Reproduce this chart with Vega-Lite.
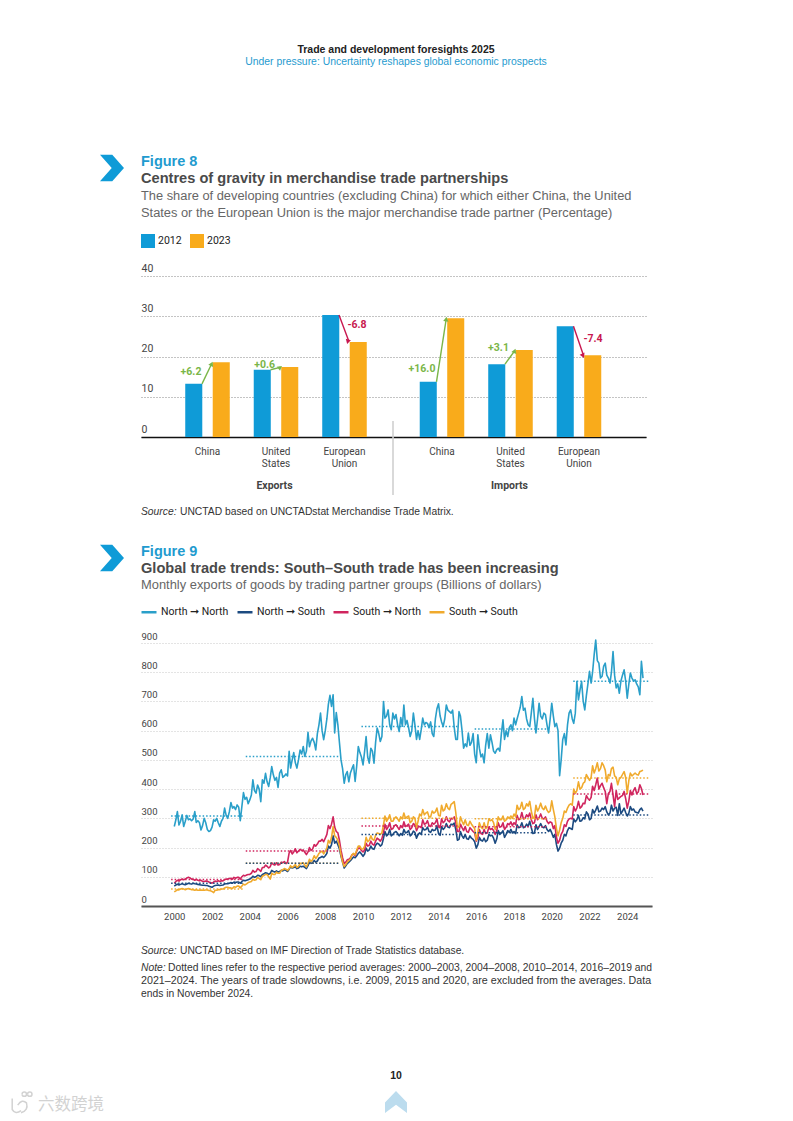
{"$schema":"https://vega.github.io/schema/vega-lite/v6.json","padding":0,"spacing":0,"bounds":"flush","align":"each","columns":3,"resolve":{"scale":{"color":"independent","angle":"independent","xOffset":"independent"},"legend":{"color":"independent"}},"config":{"view":{"stroke":null},"font":"Liberation Sans","concat":{"spacing":0}},
"datasets":{
"blank":[{"spacer":"empty cell"}],
"arrowsE":[{"partner":"China","end":"from","value":13.2,"dir":"up"},{"partner":"China","end":"to","value":18.2,"dir":"up"},{"partner":"United States","end":"from","value":16.7,"dir":"up"},{"partner":"United States","end":"to","value":17.3,"dir":"up"},{"partner":"European Union","end":"from","value":30.3,"dir":"down"},{"partner":"European Union","end":"to","value":23.9,"dir":"down"}],
"arrowsI":[{"partner":"China","end":"from","value":13.7,"dir":"up"},{"partner":"China","end":"to","value":29.3,"dir":"up"},{"partner":"United States","end":"from","value":18.1,"dir":"up"},{"partner":"United States","end":"to","value":21.4,"dir":"up"},{"partner":"European Union","end":"from","value":27.5,"dir":"down"},{"partner":"European Union","end":"to","value":20.5,"dir":"down"}],
"barsE":[{"partner":"China","year":"2012","value":13.2},{"partner":"China","year":"2023","value":18.6},{"partner":"United States","year":"2012","value":16.7},{"partner":"United States","year":"2023","value":17.4},{"partner":"European Union","year":"2012","value":30.3},{"partner":"European Union","year":"2023","value":23.6}],
"barsI":[{"partner":"China","year":"2012","value":13.7},{"partner":"China","year":"2023","value":29.5},{"partner":"United States","year":"2012","value":18.1},{"partner":"United States","year":"2023","value":21.6},{"partner":"European Union","year":"2012","value":27.5},{"partner":"European Union","year":"2023","value":20.3}],
"monthly":[
{"d":"2000-01","NN":272,"NS":68,"SN":78,"SS":48},{"d":"2000-02","NN":295,"NS":72,"SN":84,"SS":52},{"d":"2000-03","NN":323,"NS":75,"SN":88,"SS":56},{"d":"2000-04","NN":277,"NS":72,"SN":85,"SS":55},{"d":"2000-05","NN":290,"NS":74,"SN":90,"SS":58},{"d":"2000-06","NN":312,"NS":76,"SN":92,"SS":60},{"d":"2000-07","NN":272,"NS":74,"SN":90,"SS":58},{"d":"2000-08","NN":290,"NS":73,"SN":92,"SS":56},{"d":"2000-09","NN":310,"NS":75,"SN":96,"SS":58},{"d":"2000-10","NN":295,"NS":78,"SN":98,"SS":60},{"d":"2000-11","NN":298,"NS":76,"SN":96,"SS":58},{"d":"2000-12","NN":292,"NS":75,"SN":92,"SS":56},
{"d":"2001-01","NN":298,"NS":78,"SN":92,"SS":56},{"d":"2001-02","NN":323,"NS":76,"SN":88,"SS":54},{"d":"2001-03","NN":286,"NS":75,"SN":92,"SS":56},{"d":"2001-04","NN":292,"NS":74,"SN":88,"SS":54},{"d":"2001-05","NN":286,"NS":73,"SN":86,"SS":54},{"d":"2001-06","NN":260,"NS":72,"SN":88,"SS":55},{"d":"2001-07","NN":275,"NS":71,"SN":84,"SS":54},{"d":"2001-08","NN":300,"NS":71,"SN":84,"SS":54},{"d":"2001-09","NN":285,"NS":70,"SN":85,"SS":55},{"d":"2001-10","NN":262,"NS":70,"SN":85,"SS":55},{"d":"2001-11","NN":255,"NS":68,"SN":82,"SS":53},{"d":"2001-12","NN":258,"NS":66,"SN":80,"SS":52},
{"d":"2002-01","NN":270,"NS":64,"SN":78,"SS":50},{"d":"2002-02","NN":295,"NS":68,"SN":82,"SS":46},{"d":"2002-03","NN":290,"NS":70,"SN":85,"SS":54},{"d":"2002-04","NN":300,"NS":71,"SN":84,"SS":54},{"d":"2002-05","NN":285,"NS":72,"SN":86,"SS":56},{"d":"2002-06","NN":272,"NS":70,"SN":84,"SS":56},{"d":"2002-07","NN":290,"NS":71,"SN":86,"SS":58},{"d":"2002-08","NN":300,"NS":72,"SN":86,"SS":58},{"d":"2002-09","NN":335,"NS":75,"SN":90,"SS":62},{"d":"2002-10","NN":310,"NS":76,"SN":92,"SS":64},{"d":"2002-11","NN":300,"NS":76,"SN":92,"SS":64},{"d":"2002-12","NN":322,"NS":78,"SN":94,"SS":62},
{"d":"2003-01","NN":354,"NS":80,"SN":95,"SS":62},{"d":"2003-02","NN":335,"NS":78,"SN":92,"SS":60},{"d":"2003-03","NN":340,"NS":82,"SN":98,"SS":66},{"d":"2003-04","NN":330,"NS":80,"SN":95,"SS":64},{"d":"2003-05","NN":346,"NS":82,"SN":98,"SS":68},{"d":"2003-06","NN":338,"NS":82,"SN":98,"SS":68},{"d":"2003-07","NN":292,"NS":78,"SN":92,"SS":62},{"d":"2003-08","NN":340,"NS":84,"SN":100,"SS":68},{"d":"2003-09","NN":388,"NS":88,"SN":105,"SS":75},{"d":"2003-10","NN":365,"NS":86,"SN":103,"SS":72},{"d":"2003-11","NN":372,"NS":88,"SN":106,"SS":76},{"d":"2003-12","NN":350,"NS":90,"SN":108,"SS":80},
{"d":"2004-01","NN":363,"NS":92,"SN":108,"SS":82},{"d":"2004-02","NN":380,"NS":96,"SN":112,"SS":84},{"d":"2004-03","NN":432,"NS":102,"SN":122,"SS":92},{"d":"2004-04","NN":395,"NS":98,"SN":116,"SS":88},{"d":"2004-05","NN":386,"NS":100,"SN":118,"SS":90},{"d":"2004-06","NN":414,"NS":105,"SN":128,"SS":98},{"d":"2004-07","NN":400,"NS":104,"SN":124,"SS":94},{"d":"2004-08","NN":357,"NS":100,"SN":118,"SS":90},{"d":"2004-09","NN":432,"NS":108,"SN":132,"SS":102},{"d":"2004-10","NN":420,"NS":110,"SN":132,"SS":104},{"d":"2004-11","NN":454,"NS":114,"SN":140,"SS":108},{"d":"2004-12","NN":425,"NS":112,"SN":136,"SS":108},
{"d":"2005-01","NN":409,"NS":108,"SN":130,"SS":100},{"d":"2005-02","NN":440,"NS":112,"SN":135,"SS":92},{"d":"2005-03","NN":477,"NS":122,"SN":148,"SS":112},{"d":"2005-04","NN":449,"NS":118,"SN":142,"SS":108},{"d":"2005-05","NN":430,"NS":116,"SN":140,"SS":108},{"d":"2005-06","NN":440,"NS":120,"SN":148,"SS":116},{"d":"2005-07","NN":406,"NS":116,"SN":140,"SS":112},{"d":"2005-08","NN":455,"NS":118,"SN":142,"SS":112},{"d":"2005-09","NN":466,"NS":122,"SN":150,"SS":122},{"d":"2005-10","NN":440,"NS":120,"SN":148,"SS":124},{"d":"2005-11","NN":445,"NS":124,"SN":152,"SS":128},{"d":"2005-12","NN":452,"NS":122,"SN":145,"SS":126},
{"d":"2006-01","NN":445,"NS":118,"SN":150,"SS":122},{"d":"2006-02","NN":529,"NS":126,"SN":182,"SS":128},{"d":"2006-03","NN":472,"NS":134,"SN":190,"SS":138},{"d":"2006-04","NN":500,"NS":130,"SN":178,"SS":132},{"d":"2006-05","NN":525,"NS":132,"SN":185,"SS":136},{"d":"2006-06","NN":490,"NS":134,"SN":196,"SS":142},{"d":"2006-07","NN":472,"NS":128,"SN":182,"SS":132},{"d":"2006-08","NN":500,"NS":130,"SN":188,"SS":136},{"d":"2006-09","NN":534,"NS":136,"SN":194,"SS":146},{"d":"2006-10","NN":520,"NS":134,"SN":190,"SS":145},{"d":"2006-11","NN":546,"NS":136,"SN":192,"SS":148},{"d":"2006-12","NN":512,"NS":132,"SN":184,"SS":140},
{"d":"2007-01","NN":530,"NS":128,"SN":176,"SS":134},{"d":"2007-02","NN":594,"NS":138,"SN":185,"SS":146},{"d":"2007-03","NN":545,"NS":150,"SN":200,"SS":160},{"d":"2007-04","NN":565,"NS":146,"SN":190,"SS":152},{"d":"2007-05","NN":574,"NS":148,"SN":195,"SS":158},{"d":"2007-06","NN":560,"NS":156,"SN":210,"SS":172},{"d":"2007-07","NN":534,"NS":150,"SN":205,"SS":162},{"d":"2007-08","NN":590,"NS":154,"SN":212,"SS":170},{"d":"2007-09","NN":620,"NS":164,"SN":222,"SS":180},{"d":"2007-10","NN":660,"NS":166,"SN":222,"SS":184},{"d":"2007-11","NN":600,"NS":170,"SN":228,"SS":188},{"d":"2007-12","NN":569,"NS":166,"SN":220,"SS":178},
{"d":"2008-01","NN":600,"NS":172,"SN":232,"SS":188},{"d":"2008-02","NN":640,"NS":180,"SN":245,"SS":198},{"d":"2008-03","NN":690,"NS":205,"SN":275,"SS":225},{"d":"2008-04","NN":721,"NS":198,"SN":265,"SS":215},{"d":"2008-05","NN":683,"NS":210,"SN":280,"SS":235},{"d":"2008-06","NN":723,"NS":240,"SN":305,"SS":272},{"d":"2008-07","NN":592,"NS":215,"SN":270,"SS":240},{"d":"2008-08","NN":662,"NS":222,"SN":255,"SS":235},{"d":"2008-09","NN":620,"NS":210,"SN":250,"SS":225},{"d":"2008-10","NN":560,"NS":195,"SN":225,"SS":205},{"d":"2008-11","NN":500,"NS":170,"SN":190,"SS":175},{"d":"2008-12","NN":470,"NS":150,"SN":165,"SS":150},
{"d":"2009-01","NN":420,"NS":130,"SN":145,"SS":135},{"d":"2009-02","NN":450,"NS":138,"SN":150,"SS":142},{"d":"2009-03","NN":460,"NS":145,"SN":158,"SS":150},{"d":"2009-04","NN":425,"NS":150,"SN":160,"SS":155},{"d":"2009-05","NN":455,"NS":155,"SN":165,"SS":160},{"d":"2009-06","NN":470,"NS":162,"SN":175,"SS":175},{"d":"2009-07","NN":483,"NS":168,"SN":178,"SS":180},{"d":"2009-08","NN":426,"NS":165,"SN":172,"SS":175},{"d":"2009-09","NN":480,"NS":172,"SN":188,"SS":192},{"d":"2009-10","NN":546,"NS":180,"SN":198,"SS":205},{"d":"2009-11","NN":525,"NS":185,"SN":198,"SS":205},{"d":"2009-12","NN":510,"NS":178,"SN":190,"SS":195},
{"d":"2010-01","NN":483,"NS":170,"SN":185,"SS":195},{"d":"2010-02","NN":530,"NS":178,"SN":192,"SS":205},{"d":"2010-03","NN":580,"NS":198,"SN":215,"SS":235},{"d":"2010-04","NN":510,"NS":188,"SN":205,"SS":220},{"d":"2010-05","NN":489,"NS":192,"SN":208,"SS":225},{"d":"2010-06","NN":540,"NS":205,"SN":222,"SS":240},{"d":"2010-07","NN":530,"NS":196,"SN":212,"SS":228},{"d":"2010-08","NN":489,"NS":194,"SN":208,"SS":225},{"d":"2010-09","NN":560,"NS":208,"SN":222,"SS":242},{"d":"2010-10","NN":609,"NS":215,"SN":232,"SS":250},{"d":"2010-11","NN":590,"NS":212,"SN":228,"SS":248},{"d":"2010-12","NN":563,"NS":205,"SN":222,"SS":245},
{"d":"2011-01","NN":580,"NS":210,"SN":230,"SS":250},{"d":"2011-02","NN":700,"NS":232,"SN":252,"SS":278},{"d":"2011-03","NN":643,"NS":255,"SN":280,"SS":308},{"d":"2011-04","NN":650,"NS":240,"SN":262,"SS":290},{"d":"2011-05","NN":671,"NS":245,"SN":270,"SS":298},{"d":"2011-06","NN":620,"NS":262,"SN":285,"SS":312},{"d":"2011-07","NN":603,"NS":240,"SN":262,"SS":290},{"d":"2011-08","NN":660,"NS":245,"SN":265,"SS":290},{"d":"2011-09","NN":640,"NS":252,"SN":275,"SS":300},{"d":"2011-10","NN":655,"NS":255,"SN":278,"SS":305},{"d":"2011-11","NN":620,"NS":248,"SN":270,"SS":298},{"d":"2011-12","NN":597,"NS":240,"SN":262,"SS":290},
{"d":"2012-01","NN":645,"NS":248,"SN":275,"SS":305},{"d":"2012-02","NN":615,"NS":242,"SN":268,"SS":298},{"d":"2012-03","NN":688,"NS":262,"SN":288,"SS":318},{"d":"2012-04","NN":620,"NS":250,"SN":272,"SS":300},{"d":"2012-05","NN":635,"NS":252,"SN":275,"SS":305},{"d":"2012-06","NN":610,"NS":258,"SN":280,"SS":308},{"d":"2012-07","NN":580,"NS":240,"SN":262,"SS":285},{"d":"2012-08","NN":600,"NS":245,"SN":268,"SS":290},{"d":"2012-09","NN":660,"NS":256,"SN":282,"SS":305},{"d":"2012-10","NN":620,"NS":252,"SN":278,"SS":300},{"d":"2012-11","NN":570,"NS":232,"SN":258,"SS":268},{"d":"2012-12","NN":600,"NS":245,"SN":270,"SS":290},
{"d":"2013-01","NN":570,"NS":250,"SN":272,"SS":315},{"d":"2013-02","NN":605,"NS":245,"SN":268,"SS":308},{"d":"2013-03","NN":643,"NS":268,"SN":295,"SS":330},{"d":"2013-04","NN":620,"NS":260,"SN":280,"SS":312},{"d":"2013-05","NN":628,"NS":262,"SN":282,"SS":318},{"d":"2013-06","NN":625,"NS":270,"SN":292,"SS":322},{"d":"2013-07","NN":610,"NS":255,"SN":275,"SS":305},{"d":"2013-08","NN":630,"NS":252,"SN":272,"SS":305},{"d":"2013-09","NN":590,"NS":262,"SN":285,"SS":325},{"d":"2013-10","NN":580,"NS":258,"SN":280,"SS":318},{"d":"2013-11","NN":640,"NS":260,"SN":285,"SS":322},{"d":"2013-12","NN":675,"NS":275,"SN":298,"SS":335},
{"d":"2014-01","NN":692,"NS":248,"SN":270,"SS":310},{"d":"2014-02","NN":650,"NS":242,"SN":268,"SS":308},{"d":"2014-03","NN":630,"NS":272,"SN":298,"SS":345},{"d":"2014-04","NN":614,"NS":262,"SN":285,"SS":325},{"d":"2014-05","NN":640,"NS":268,"SN":290,"SS":330},{"d":"2014-06","NN":688,"NS":282,"SN":305,"SS":350},{"d":"2014-07","NN":670,"NS":270,"SN":292,"SS":335},{"d":"2014-08","NN":665,"NS":268,"SN":288,"SS":330},{"d":"2014-09","NN":660,"NS":280,"SN":300,"SS":348},{"d":"2014-10","NN":670,"NS":278,"SN":298,"SS":352},{"d":"2014-11","NN":610,"NS":284,"SN":305,"SS":357},{"d":"2014-12","NN":570,"NS":262,"SN":285,"SS":320},
{"d":"2015-01","NN":570,"NS":225,"SN":255,"SS":268},{"d":"2015-02","NN":665,"NS":228,"SN":255,"SS":272},{"d":"2015-03","NN":650,"NS":255,"SN":280,"SS":305},{"d":"2015-04","NN":600,"NS":240,"SN":268,"SS":290},{"d":"2015-05","NN":540,"NS":232,"SN":258,"SS":278},{"d":"2015-06","NN":555,"NS":245,"SN":272,"SS":295},{"d":"2015-07","NN":545,"NS":230,"SN":255,"SS":278},{"d":"2015-08","NN":592,"NS":228,"SN":252,"SS":275},{"d":"2015-09","NN":550,"NS":240,"SN":268,"SS":290},{"d":"2015-10","NN":560,"NS":232,"SN":262,"SS":280},{"d":"2015-11","NN":590,"NS":228,"SN":255,"SS":272},{"d":"2015-12","NN":520,"NS":220,"SN":250,"SS":265},
{"d":"2016-01","NN":490,"NS":198,"SN":222,"SS":225},{"d":"2016-02","NN":586,"NS":210,"SN":235,"SS":252},{"d":"2016-03","NN":540,"NS":235,"SN":262,"SS":285},{"d":"2016-04","NN":510,"NS":225,"SN":248,"SS":270},{"d":"2016-05","NN":520,"NS":222,"SN":245,"SS":265},{"d":"2016-06","NN":490,"NS":232,"SN":262,"SS":285},{"d":"2016-07","NN":550,"NS":220,"SN":248,"SS":265},{"d":"2016-08","NN":590,"NS":225,"SN":250,"SS":270},{"d":"2016-09","NN":540,"NS":245,"SN":270,"SS":298},{"d":"2016-10","NN":586,"NS":240,"SN":262,"SS":292},{"d":"2016-11","NN":560,"NS":242,"SN":265,"SS":295},{"d":"2016-12","NN":530,"NS":232,"SN":258,"SS":285},
{"d":"2017-01","NN":523,"NS":215,"SN":245,"SS":262},{"d":"2017-02","NN":535,"NS":230,"SN":258,"SS":275},{"d":"2017-03","NN":540,"NS":258,"SN":285,"SS":305},{"d":"2017-04","NN":530,"NS":245,"SN":270,"SS":295},{"d":"2017-05","NN":590,"NS":250,"SN":272,"SS":295},{"d":"2017-06","NN":637,"NS":258,"SN":285,"SS":308},{"d":"2017-07","NN":570,"NS":235,"SN":262,"SS":290},{"d":"2017-08","NN":600,"NS":245,"SN":270,"SS":295},{"d":"2017-09","NN":580,"NS":258,"SN":282,"SS":305},{"d":"2017-10","NN":610,"NS":252,"SN":278,"SS":300},{"d":"2017-11","NN":620,"NS":262,"SN":288,"SS":308},{"d":"2017-12","NN":600,"NS":250,"SN":275,"SS":300},
{"d":"2018-01","NN":643,"NS":255,"SN":285,"SS":315},{"d":"2018-02","NN":620,"NS":248,"SN":278,"SS":305},{"d":"2018-03","NN":640,"NS":278,"SN":310,"SS":345},{"d":"2018-04","NN":660,"NS":268,"SN":295,"SS":330},{"d":"2018-05","NN":680,"NS":270,"SN":298,"SS":335},{"d":"2018-06","NN":717,"NS":285,"SN":320,"SS":355},{"d":"2018-07","NN":670,"NS":268,"SN":298,"SS":330},{"d":"2018-08","NN":677,"NS":270,"SN":300,"SS":335},{"d":"2018-09","NN":640,"NS":280,"SN":312,"SS":350},{"d":"2018-10","NN":620,"NS":272,"SN":305,"SS":342},{"d":"2018-11","NN":614,"NS":290,"SN":318,"SS":358},{"d":"2018-12","NN":660,"NS":268,"SN":295,"SS":325},
{"d":"2019-01","NN":711,"NS":248,"SN":282,"SS":300},{"d":"2019-02","NN":640,"NS":250,"SN":285,"SS":305},{"d":"2019-03","NN":592,"NS":278,"SN":312,"SS":345},{"d":"2019-04","NN":640,"NS":262,"SN":295,"SS":325},{"d":"2019-05","NN":694,"NS":272,"SN":302,"SS":335},{"d":"2019-06","NN":650,"NS":282,"SN":315,"SS":352},{"d":"2019-07","NN":640,"NS":270,"SN":300,"SS":335},{"d":"2019-08","NN":660,"NS":268,"SN":298,"SS":330},{"d":"2019-09","NN":655,"NS":275,"SN":305,"SS":342},{"d":"2019-10","NN":620,"NS":262,"SN":290,"SS":328},{"d":"2019-11","NN":592,"NS":255,"SN":282,"SS":320},{"d":"2019-12","NN":640,"NS":262,"SN":288,"SS":325},
{"d":"2020-01","NN":694,"NS":250,"SN":285,"SS":360},{"d":"2020-02","NN":650,"NS":235,"SN":265,"SS":330},{"d":"2020-03","NN":614,"NS":245,"SN":275,"SS":305},{"d":"2020-04","NN":625,"NS":210,"SN":235,"SS":265},{"d":"2020-05","NN":600,"NS":188,"SN":215,"SS":240},{"d":"2020-06","NN":446,"NS":198,"SN":225,"SS":260},{"d":"2020-07","NN":500,"NS":215,"SN":245,"SS":285},{"d":"2020-08","NN":570,"NS":225,"SN":255,"SS":300},{"d":"2020-09","NN":590,"NS":245,"SN":278,"SS":325},{"d":"2020-10","NN":551,"NS":240,"SN":272,"SS":320},{"d":"2020-11","NN":620,"NS":258,"SN":290,"SS":335},{"d":"2020-12","NN":660,"NS":268,"SN":298,"SS":345},
{"d":"2021-01","NN":671,"NS":265,"SN":300,"SS":350},{"d":"2021-02","NN":640,"NS":262,"SN":298,"SS":345},{"d":"2021-03","NN":625,"NS":298,"SN":340,"SS":400},{"d":"2021-04","NN":660,"NS":288,"SN":325,"SS":385},{"d":"2021-05","NN":768,"NS":295,"SN":335,"SS":395},{"d":"2021-06","NN":705,"NS":310,"SN":358,"SS":425},{"d":"2021-07","NN":740,"NS":290,"SN":335,"SS":400},{"d":"2021-08","NN":768,"NS":292,"SN":340,"SS":405},{"d":"2021-09","NN":700,"NS":302,"SN":352,"SS":420},{"d":"2021-10","NN":671,"NS":298,"SN":350,"SS":425},{"d":"2021-11","NN":720,"NS":322,"SN":378,"SS":450},{"d":"2021-12","NN":760,"NS":315,"SN":368,"SS":440},
{"d":"2022-01","NN":803,"NS":295,"SN":362,"SS":430},{"d":"2022-02","NN":763,"NS":300,"SN":372,"SS":440},{"d":"2022-03","NN":800,"NS":330,"SN":410,"SS":480},{"d":"2022-04","NN":860,"NS":318,"SN":395,"SS":455},{"d":"2022-05","NN":910,"NS":328,"SN":415,"SS":470},{"d":"2022-06","NN":840,"NS":342,"SN":438,"SS":490},{"d":"2022-07","NN":831,"NS":322,"SN":400,"SS":462},{"d":"2022-08","NN":780,"NS":325,"SN":412,"SS":470},{"d":"2022-09","NN":786,"NS":335,"SN":420,"SS":490},{"d":"2022-10","NN":820,"NS":330,"SN":405,"SS":480},{"d":"2022-11","NN":831,"NS":340,"SN":392,"SS":465},{"d":"2022-12","NN":790,"NS":322,"SN":350,"SS":425},
{"d":"2023-01","NN":780,"NS":312,"SN":385,"SS":450},{"d":"2023-02","NN":763,"NS":318,"SN":392,"SS":445},{"d":"2023-03","NN":800,"NS":345,"SN":420,"SS":470},{"d":"2023-04","NN":871,"NS":325,"SN":380,"SS":475},{"d":"2023-05","NN":790,"NS":335,"SN":340,"SS":445},{"d":"2023-06","NN":746,"NS":338,"SN":395,"SS":440},{"d":"2023-07","NN":760,"NS":310,"SN":365,"SS":415},{"d":"2023-08","NN":728,"NS":350,"SN":370,"SS":435},{"d":"2023-09","NN":770,"NS":315,"SN":375,"SS":440},{"d":"2023-10","NN":790,"NS":325,"SN":378,"SS":450},{"d":"2023-11","NN":808,"NS":335,"SN":392,"SS":460},{"d":"2023-12","NN":770,"NS":320,"SN":368,"SS":440},
{"d":"2024-01","NN":711,"NS":308,"SN":335,"SS":385},{"d":"2024-02","NN":760,"NS":318,"SN":360,"SS":430},{"d":"2024-03","NN":797,"NS":340,"SN":395,"SS":455},{"d":"2024-04","NN":780,"NS":328,"SN":380,"SS":445},{"d":"2024-05","NN":770,"NS":332,"SN":395,"SS":450},{"d":"2024-06","NN":774,"NS":322,"SN":405,"SS":455},{"d":"2024-07","NN":760,"NS":320,"SN":385,"SS":450},{"d":"2024-08","NN":750,"NS":318,"SN":390,"SS":448},{"d":"2024-09","NN":723,"NS":330,"SN":415,"SS":460},{"d":"2024-10","NN":837,"NS":335,"SN":402,"SS":462},{"d":"2024-11","NN":780,"NS":325,"SN":380,"SS":465}
],
"averages":[
{"series":"NN","start":"1999-11-01","end":"2003-08-25","level":308},{"series":"NS","start":"1999-11-01","end":"2003-08-25","level":78},{"series":"SN","start":"1999-11-01","end":"2003-08-25","level":91},{"series":"SS","start":"1999-11-01","end":"2003-08-25","level":58},
{"series":"NN","start":"2003-10-15","end":"2008-10-10","level":512},{"series":"SS","start":"2003-10-15","end":"2008-10-10","level":146},{"series":"NS","start":"2003-10-15","end":"2008-10-10","level":146},{"series":"SN","start":"2003-10-15","end":"2008-10-10","level":188},
{"series":"NN","start":"2009-12-01","end":"2015-01-10","level":614},{"series":"NS","start":"2009-12-01","end":"2015-01-10","level":245},{"series":"SN","start":"2009-12-01","end":"2015-01-10","level":274},{"series":"SS","start":"2009-12-01","end":"2015-01-10","level":300},
{"series":"NN","start":"2015-12-01","end":"2019-10-20","level":606},{"series":"NS","start":"2015-12-01","end":"2019-10-20","level":251},{"series":"SN","start":"2015-12-01","end":"2019-10-20","level":271},{"series":"SS","start":"2015-12-01","end":"2019-10-20","level":299},
{"series":"NN","start":"2021-02-20","end":"2025-02-15","level":769},{"series":"NS","start":"2021-02-20","end":"2025-02-15","level":311},{"series":"SN","start":"2021-02-20","end":"2025-02-15","level":383},{"series":"SS","start":"2021-02-20","end":"2025-02-15","level":438}
]
},
"concat":[
{"width":141,"height":146,"data":{"name":"blank"},"mark":{"type":"text","text":" "}},
{"width":252,"height":146,"data":{"name":"blank"},"mark":{"type":"text","text":" "}},
{"width":253,"height":146,"layer":[
{"data":{"values":[{"line":"1","t":"Trade and development foresights 2025"}]},"mark":{"type":"text","x":3,"fontSize":10.5,"fontWeight":"bold","color":"#222222"},"encoding":{"y":{"field":"line","type":"nominal","axis":null,"scale":{"type":"point","domain":["1","2"],"range":[50,62],"padding":0}},"text":{"field":"t"}}},
{"data":{"values":[{"line":"2","t":"Under pressure: Uncertainty reshapes global economic prospects"}]},"mark":{"type":"text","x":3,"fontSize":10.4,"color":"#1f9bcf"},"encoding":{"y":{"field":"line","type":"nominal","axis":null,"scale":{"type":"point","domain":["1","2"],"range":[50,62],"padding":0}},"text":{"field":"t"}}}
]},
{"width":141,"height":130,"data":{"values":[{"figure":"Figure 8"}]},"mark":{"type":"point","shape":"M-0.9,-1L0.02,-1L0.9,0L0.02,1L-0.9,1L-0.02,0Z","filled":true,"fill":"#0f9bd7","stroke":null,"opacity":1,"size":711,"x":112,"y":22}},
{"width":252,"height":130,"layer":[
{"data":{"values":[{"line":"1","t":"Figure 8"}]},"mark":{"type":"text","align":"left","x":0,"fontSize":14.5,"fontWeight":"bold","color":"#1f9bcf"},"encoding":{"y":{"field":"line","type":"nominal","axis":null,"scale":{"type":"point","domain":["1","2","3","4"],"range":[15.5,66.5],"padding":0}},"text":{"field":"t"}}},
{"data":{"values":[{"line":"2","t":"Centres of gravity in merchandise trade partnerships"}]},"mark":{"type":"text","align":"left","x":0,"fontSize":14.6,"fontWeight":"bold","color":"#4a4a4a"},"encoding":{"y":{"field":"line","type":"nominal","axis":null,"scale":{"type":"point","domain":["1","2","3","4"],"range":[15.5,66.5],"padding":0}},"text":{"field":"t"}}},
{"data":{"values":[{"line":"3","t":"The share of developing countries (excluding China) for which either China, the United"},{"line":"4","t":"States or the European Union is the major merchandise trade partner (Percentage)"}]},"mark":{"type":"text","align":"left","x":0,"fontSize":12.85,"color":"#666666"},"encoding":{"y":{"field":"line","type":"nominal","axis":null,"scale":{"type":"point","domain":["1","2","3","4"],"range":[15.5,66.5],"padding":0}},"text":{"field":"t"}}}
]},
{"width":253,"height":130,"data":{"name":"blank"},"mark":{"type":"text","text":" "}},
{"width":141,"height":161,"data":{"name":"blank"},"mark":{"type":"text","text":" "}},
{"width":252,"height":161,"encoding":{"x":{"field":"partner","type":"nominal","title":"Exports","scale":{"domain":["China","United States","European Union"],"paddingInner":0.35,"paddingOuter":0.5145,"align":0.6277},"axis":{"labelAngle":0,"ticks":false,"domainColor":"#111111","domainWidth":1.5,"labelFont":"Roboto","labelFontSize":10,"labelColor":"#444444","labelPadding":9,"labelExpr":"split(datum.label,' ')","titleFont":"Roboto","titleFontSize":10.5,"titleFontWeight":"bold","titleColor":"#444444","titleX":133,"titleY":48,"titleBaseline":"middle"}}},
"layer":[
{"data":{"name":"barsE"},"mark":{"type":"bar"},"encoding":{"xOffset":{"field":"year","type":"nominal","scale":{"domain":["2012","2023"],"paddingInner":0.38,"paddingOuter":0}},"y":{"field":"value","type":"quantitative","stack":null,"scale":{"domain":[0,40]},"axis":{"title":null,"values":[0,10,20,30,40],"grid":true,"gridDash":[1,2],"gridColor":"#888888","domain":false,"ticks":false,"tickSize":0,"labelAlign":"left","labelBaseline":"bottom","labelPadding":0,"labelOffset":-3,"labelOverlap":false,"labelFont":"Roboto","labelFontSize":10.5,"labelColor":"#444444"}},"color":{"field":"year","type":"nominal","scale":{"domain":["2012","2023"],"range":["#0f9bd7","#f9ab1b"]},"legend":{"title":null,"orient":"none","legendX":0,"legendY":-42,"direction":"horizontal","symbolType":"square","symbolSize":196,"symbolStrokeWidth":0,"symbolOpacity":1,"labelOffset":3,"columnPadding":8,"padding":0,"labelFont":"Roboto","labelFontSize":10.5,"labelColor":"#222222"}}}},
{"data":{"name":"arrowsE"},"mark":{"type":"line","strokeWidth":1.4},"encoding":{"xOffset":{"field":"end","type":"nominal","scale":{"type":"point","domain":["from","to"],"range":[16.75,26.45],"padding":0}},"y":{"field":"value","type":"quantitative"},"detail":{"field":"partner"},"color":{"condition":{"test":"datum.dir=='up'","value":"#7ab648"},"value":"#c8174f"}}},
{"data":{"name":"arrowsE"},"transform":[{"filter":"datum.end=='to'"}],"mark":{"type":"point","shape":"triangle-up","filled":true,"opacity":1,"size":28},"encoding":{"xOffset":{"field":"end","type":"nominal","scale":{"type":"point","domain":["from","to"],"range":[16.75,26.45],"padding":0}},"y":{"field":"value","type":"quantitative"},"angle":{"field":"partner","type":"nominal","legend":null,"scale":{"domain":["China","United States","European Union"],"range":[26,75,157]}},"color":{"condition":{"test":"datum.dir=='up'","value":"#7ab648"},"value":"#c8174f"}}},
{"data":{"values":[{"partner":"China","at":16.2,"label":"+6.2"}]},"mark":{"type":"text","dx":-16.5,"font":"Roboto","fontWeight":"bold","fontSize":10.5,"color":"#7ab648"},"encoding":{"y":{"field":"at","type":"quantitative"},"text":{"field":"label"}}},
{"data":{"values":[{"partner":"United States","at":18,"label":"+0.6"}]},"mark":{"type":"text","dx":-11.3,"font":"Roboto","fontWeight":"bold","fontSize":10.5,"color":"#7ab648"},"encoding":{"y":{"field":"at","type":"quantitative"},"text":{"field":"label"}}},
{"data":{"values":[{"partner":"European Union","at":27.8,"label":"-6.8"}]},"mark":{"type":"text","dx":12.5,"font":"Roboto","fontWeight":"bold","fontSize":10.5,"color":"#c8174f"},"encoding":{"y":{"field":"at","type":"quantitative"},"text":{"field":"label"}}}
],"resolve":{"scale":{"xOffset":"independent"}}},
{"width":253,"height":161,"encoding":{"x":{"field":"partner","type":"nominal","title":"Imports","scale":{"domain":["China","United States","European Union"],"paddingInner":0.35,"paddingOuter":0.5218,"align":0.374},"axis":{"labelAngle":0,"ticks":false,"domainColor":"#111111","domainWidth":1.5,"labelFont":"Roboto","labelFontSize":10,"labelColor":"#444444","labelPadding":9,"labelExpr":"split(datum.label,' ')","titleFont":"Roboto","titleFontSize":10.5,"titleFontWeight":"bold","titleColor":"#444444","titleX":116,"titleY":48,"titleBaseline":"middle"}}},
"layer":[
{"data":{"name":"barsI"},"mark":{"type":"bar"},"encoding":{"xOffset":{"field":"year","type":"nominal","scale":{"domain":["2012","2023"],"paddingInner":0.38,"paddingOuter":0}},"y":{"field":"value","type":"quantitative","stack":null,"scale":{"domain":[0,40]},"axis":{"title":null,"values":[0,10,20,30,40],"grid":true,"gridDash":[1,2],"gridColor":"#888888","domain":false,"ticks":false,"labels":false}},"color":{"field":"year","type":"nominal","scale":{"domain":["2012","2023"],"range":["#0f9bd7","#f9ab1b"]},"legend":null}}},
{"data":{"name":"arrowsI"},"mark":{"type":"line","strokeWidth":1.4},"encoding":{"xOffset":{"field":"end","type":"nominal","scale":{"type":"point","domain":["from","to"],"range":[16.75,26.45],"padding":0}},"y":{"field":"value","type":"quantitative"},"detail":{"field":"partner"},"color":{"condition":{"test":"datum.dir=='up'","value":"#7ab648"},"value":"#c8174f"}}},
{"data":{"name":"arrowsI"},"transform":[{"filter":"datum.end=='to'"}],"mark":{"type":"point","shape":"triangle-up","filled":true,"opacity":1,"size":28},"encoding":{"xOffset":{"field":"end","type":"nominal","scale":{"type":"point","domain":["from","to"],"range":[16.75,26.45],"padding":0}},"y":{"field":"value","type":"quantitative"},"angle":{"field":"partner","type":"nominal","legend":null,"scale":{"domain":["China","United States","European Union"],"range":[9,35,161]}},"color":{"condition":{"test":"datum.dir=='up'","value":"#7ab648"},"value":"#c8174f"}}},
{"data":{"values":[{"partner":"China","at":17,"label":"+16.0"}]},"mark":{"type":"text","dx":-20,"font":"Roboto","fontWeight":"bold","fontSize":10.5,"color":"#7ab648"},"encoding":{"y":{"field":"at","type":"quantitative"},"text":{"field":"label"}}},
{"data":{"values":[{"partner":"United States","at":22.1,"label":"+3.1"}]},"mark":{"type":"text","dx":-12,"font":"Roboto","fontWeight":"bold","fontSize":10.5,"color":"#7ab648"},"encoding":{"y":{"field":"at","type":"quantitative"},"text":{"field":"label"}}},
{"data":{"values":[{"partner":"European Union","at":24.3,"label":"-7.4"}]},"mark":{"type":"text","dx":14,"font":"Roboto","fontWeight":"bold","fontSize":10.5,"color":"#c8174f"},"encoding":{"y":{"field":"at","type":"quantitative"},"text":{"field":"label"}}},
{"data":{"values":[{"from":4,"to":-14.4}]},"mark":{"type":"rule","x":0,"stroke":"#cccccc","strokeWidth":1.5},"encoding":{"y":{"field":"from","type":"quantitative"},"y2":{"field":"to"}}}
],"resolve":{"scale":{"xOffset":"independent"}}},
{"width":141,"height":100,"data":{"name":"blank"},"mark":{"type":"text","text":" "}},
{"width":252,"height":100,"layer":[
{"data":{"values":[{"line":"1","t":"Source:"}]},"mark":{"type":"text","align":"left","x":0,"fontSize":10.3,"fontStyle":"italic","color":"#333333"},"encoding":{"y":{"field":"line","type":"nominal","axis":null,"scale":{"type":"point","domain":["1"],"range":[75,75],"padding":0}},"text":{"field":"t"}}},
{"data":{"values":[{"line":"1","t":"UNCTAD based on UNCTADstat Merchandise Trade Matrix."}]},"mark":{"type":"text","align":"left","x":39,"fontSize":10.3,"color":"#333333"},"encoding":{"y":{"field":"line","type":"nominal","axis":null,"scale":{"type":"point","domain":["1"],"range":[75,75],"padding":0}},"text":{"field":"t"}}}
]},
{"width":253,"height":100,"data":{"name":"blank"},"mark":{"type":"text","text":" "}},
{"width":141,"height":106,"data":{"values":[{"figure":"Figure 9"}]},"mark":{"type":"point","shape":"M-0.9,-1L0.02,-1L0.9,0L0.02,1L-0.9,1L-0.02,0Z","filled":true,"fill":"#0f9bd7","stroke":null,"opacity":1,"size":711,"x":112,"y":21}},
{"width":252,"height":106,"layer":[
{"data":{"values":[{"line":"1","t":"Figure 9"}]},"mark":{"type":"text","align":"left","x":0,"fontSize":14.5,"fontWeight":"bold","color":"#1f9bcf"},"encoding":{"y":{"field":"line","type":"nominal","axis":null,"scale":{"type":"point","domain":["1","2","3"],"range":[15,48],"padding":0}},"text":{"field":"t"}}},
{"data":{"values":[{"line":"2","t":"Global trade trends: South–South trade has been increasing"}]},"mark":{"type":"text","align":"left","x":0,"fontSize":14.6,"fontWeight":"bold","color":"#4a4a4a"},"encoding":{"y":{"field":"line","type":"nominal","axis":null,"scale":{"type":"point","domain":["1","2","3"],"range":[15,48],"padding":0}},"text":{"field":"t"}}},
{"data":{"values":[{"line":"3","t":"Monthly exports of goods by trading partner groups (Billions of dollars)"}]},"mark":{"type":"text","align":"left","x":0,"fontSize":12.9,"color":"#666666"},"encoding":{"y":{"field":"line","type":"nominal","axis":null,"scale":{"type":"point","domain":["1","2","3"],"range":[15,48],"padding":0}},"text":{"field":"t"}}}
]},
{"width":253,"height":106,"data":{"name":"blank"},"mark":{"type":"text","text":" "}},
{"width":141,"height":263,"data":{"name":"blank"},"mark":{"type":"text","text":" "}},
{"width":252,"height":263,"layer":[
{"data":{"name":"monthly"},"transform":[{"fold":["NN","NS","SN","SS"],"as":["series","billions"]}],"mark":{"type":"line","strokeWidth":1.6,"strokeJoin":"round"},"encoding":{"x":{"field":"d","type":"temporal","scale":{"domain":["1998-03-28","2025-04-24"],"range":[0,511]},"axis":{"title":null,"grid":false,"ticks":false,"format":"%Y","tickCount":{"interval":"year","step":2},"domainColor":"#555555","domainWidth":2,"labelFont":"Roboto","labelFontSize":9.5,"labelColor":"#444444","labelPadding":5}},"y":{"field":"billions","type":"quantitative","scale":{"domain":[0,900]},"axis":{"title":null,"values":[0,100,200,300,400,500,600,700,800,900],"tickCount":10,"grid":true,"gridDash":[1,2],"gridColor":"#c8c8c8","domain":false,"ticks":false,"tickSize":0,"labelAlign":"left","labelBaseline":"bottom","labelPadding":0,"labelOffset":-2,"labelOverlap":false,"labelFont":"Roboto","labelFontSize":9.5,"labelColor":"#444444"}},"color":{"field":"series","type":"nominal","scale":{"domain":["NN","NS","SN","SS"],"range":["#2a9fc9","#1c4a80","#d0255e","#f0aa2d"]},"legend":{"title":null,"orient":"none","legendX":-1,"legendY":-40,"direction":"horizontal","symbolType":"stroke","symbolSize":225,"symbolStrokeWidth":2.5,"labelOffset":3,"columnPadding":3,"padding":0,"labelFont":"Roboto","labelFontSize":10.5,"labelColor":"#222222","labelExpr":"{'NN':'North ➞ North','NS':'North ➞ South','SN':'South ➞ North','SS':'South ➞ South'}[datum.label]"}}}},
{"data":{"name":"averages"},"mark":{"type":"rule","strokeWidth":1.5,"strokeDash":[1.5,2]},"encoding":{"x":{"field":"start","type":"temporal"},"x2":{"field":"end"},"y":{"field":"level","type":"quantitative","axis":{"title":null,"values":[0,100,200,300,400,500,600,700,800,900],"tickCount":10,"grid":true,"gridDash":[1,2],"gridColor":"#c8c8c8","domain":false,"ticks":false,"tickSize":0,"labelAlign":"left","labelBaseline":"bottom","labelPadding":0,"labelOffset":-2,"labelOverlap":false,"labelFont":"Roboto","labelFontSize":9.5,"labelColor":"#444444"}},"color":{"field":"series","type":"nominal"}}}
]},
{"width":253,"height":263,"data":{"name":"blank"},"mark":{"type":"text","text":" "}},
{"width":141,"height":52,"data":{"name":"blank"},"mark":{"type":"text","text":" "}},
{"width":252,"height":52,"layer":[
{"data":{"values":[{"line":"1","t":"Source:"}]},"mark":{"type":"text","align":"left","x":0,"fontSize":10.3,"fontStyle":"italic","color":"#333333"},"encoding":{"y":{"field":"line","type":"nominal","axis":null,"scale":{"type":"point","domain":["1"],"range":[45,45],"padding":0}},"text":{"field":"t"}}},
{"data":{"values":[{"line":"1","t":"UNCTAD based on IMF Direction of Trade Statistics database."}]},"mark":{"type":"text","align":"left","x":39,"fontSize":10.3,"color":"#333333"},"encoding":{"y":{"field":"line","type":"nominal","axis":null,"scale":{"type":"point","domain":["1"],"range":[45,45],"padding":0}},"text":{"field":"t"}}}
]},
{"width":253,"height":52,"data":{"name":"blank"},"mark":{"type":"text","text":" "}},
{"width":141,"height":102,"data":{"name":"blank"},"mark":{"type":"text","text":" "}},
{"width":252,"height":102,"layer":[
{"data":{"values":[{"line":"1","t":"Note:"}]},"mark":{"type":"text","align":"left","x":0,"fontSize":10.3,"fontStyle":"italic","color":"#333333"},"encoding":{"y":{"field":"line","type":"nominal","axis":null,"scale":{"type":"point","domain":["1","2","3"],"range":[10,36],"padding":0}},"text":{"field":"t"}}},
{"data":{"values":[{"line":"1","t":"Dotted lines refer to the respective period averages: 2000–2003, 2004–2008, 2010–2014, 2016–2019 and"}]},"mark":{"type":"text","align":"left","x":27,"fontSize":10.33,"color":"#333333"},"encoding":{"y":{"field":"line","type":"nominal","axis":null,"scale":{"type":"point","domain":["1","2","3"],"range":[10,36],"padding":0}},"text":{"field":"t"}}},
{"data":{"values":[{"line":"2","t":"2021–2024. The years of trade slowdowns, i.e. 2009, 2015 and 2020, are excluded from the averages. Data"}]},"mark":{"type":"text","align":"left","x":0,"fontSize":10.7,"color":"#333333"},"encoding":{"y":{"field":"line","type":"nominal","axis":null,"scale":{"type":"point","domain":["1","2","3"],"range":[10,36],"padding":0}},"text":{"field":"t"}}},
{"data":{"values":[{"line":"3","t":"ends in November 2024."}]},"mark":{"type":"text","align":"left","x":0,"fontSize":10.3,"color":"#333333"},"encoding":{"y":{"field":"line","type":"nominal","axis":null,"scale":{"type":"point","domain":["1","2","3"],"range":[10,36],"padding":0}},"text":{"field":"t"}}}
]},
{"width":253,"height":102,"data":{"name":"blank"},"mark":{"type":"text","text":" "}},
{"width":141,"height":61,"layer":[
{"data":{"values":[{"t":"六数跨境"}]},"mark":{"type":"text","font":"Noto Sans CJK SC","fontSize":16.5,"color":"#d2d2d2","align":"left","x":38,"y":45},"encoding":{"text":{"field":"t"}}},
{"data":{"values":[{"item":"logo"}]},"mark":{"type":"point","shape":"M-0.8,-0.5L-0.8,0.5Q-0.5,1,0,0.6M-0.3,0.1Q0.1,-0.5,0.5,-0.1Q0.7,0.6,0,0.8M0.1,-0.9A0.2,0.2,0,1,1,0.1,-0.89M0.6,-0.9A0.2,0.2,0,1,1,0.6,-0.89","filled":false,"stroke":"#d2d2d2","strokeWidth":1.5,"opacity":1,"size":484,"x":21,"y":44}}
]},
{"width":252,"height":61,"data":{"name":"blank"},"mark":{"type":"text","text":" "}},
{"width":253,"height":61,"layer":[
{"data":{"values":[{"t":"10"}]},"mark":{"type":"text","fontSize":10.5,"fontWeight":"bold","color":"#222222","x":3,"y":16},"encoding":{"text":{"field":"t"}}},
{"data":{"values":[{"item":"up"}]},"mark":{"type":"point","shape":"M0,-1L1,0.05L1,1L0,0.25L-1,1L-1,0.05Z","filled":true,"fill":"#bcdcee","stroke":null,"opacity":1,"size":484,"x":3,"y":42}}
]}
]}
